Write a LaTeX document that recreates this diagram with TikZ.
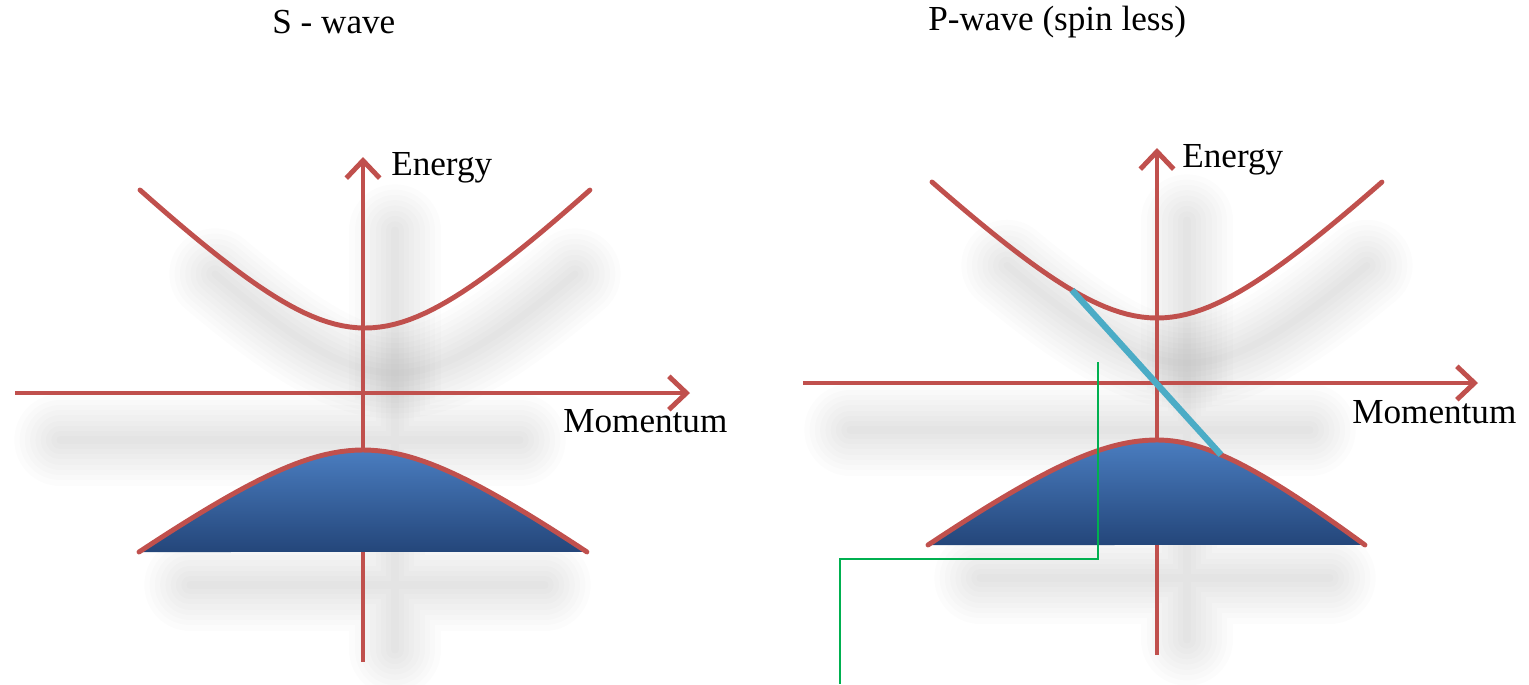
\documentclass[tikz,border=0pt]{standalone}
\usepackage{fontspec}
\setmainfont{Liberation Serif}
\usetikzlibrary{arrows.meta,positioning,calc}
\definecolor{bandred}{HTML}{C0504D}
\definecolor{bandblue}{HTML}{4A7DC0}
\definecolor{banddark}{HTML}{24467A}
\definecolor{crosscyan}{HTML}{4BACC6}
\definecolor{markgreen}{HTML}{00B050}

\begin{document}
\begin{tikzpicture}[x=0.02cm,y=-0.02cm,
  axis/.style={draw=bandred,line width=2.8pt,-{Straight Barb[length=10pt,width=19pt]}},
  curve/.style={draw=bandred,line width=2.8pt,line cap=round},
  softshadow/.style={black,opacity=0.01,line cap=round},
  label/.style={font=\fontsize{20}{24}\selectfont,inner sep=0pt,anchor=base west},
  declare function={hb(\t)=(sqrt(\t*\t+0.25)-0.5)/0.618034;}]
  \useasboundingbox (0,0) rectangle (1529,684);

  % soft shadows
  \foreach \w in {4,10,...,52}{
    \draw[softshadow,line width=\w pt] (60,440) -- (520,440) (395,230) -- (395,650)
      (190,585) -- (545,585);
    \draw[softshadow,line width=\w pt] plot[domain=-0.8:0.8,samples=41] ({395+225*\x},{373-138*hb(\x)});
    \draw[softshadow,line width=\w pt] (850,430) -- (1310,430) (1187,220) -- (1187,640)
      (980,578) -- (1330,578);
    \draw[softshadow,line width=\w pt] plot[domain=-0.8:0.8,samples=41] ({1187+225*\x},{363-136*hb(\x)});
  }

  % S - wave
  \coordinate (sbot) at (363,662);
  \coordinate (stop) at (363,157);
  \coordinate (sleft) at (15,393);
  \coordinate (sright) at (690,393);
  \draw[axis] (sbot) -- (stop);
  \draw[axis] (sleft) -- (sright);
  \draw[curve] plot[domain=-1:1,samples=61] ({365+225*\x},{328-138*hb(\x)});
  \shade[top color=bandblue,bottom color=banddark]
    plot[domain=-1:1,samples=61] ({363+224*\x},{450+102*hb(\x)}) -- cycle;
  \draw[curve] plot[domain=-1:1,samples=61] ({363+224*\x},{450+102*hb(\x)});
  \node[label] (stitle) at (272,33) {S - wave};
  \node[label] (senergy) at (391,175) {Energy};
  \node[label] (smomentum) at (563,432) {Momentum};

  % P-wave
  \coordinate (pbot) at (1157,655);
  \coordinate (ptop) at (1157,148);
  \coordinate (pleft) at (803,383);
  \coordinate (pright) at (1478,383);
  \draw[axis] (pbot) -- (ptop);
  \draw[axis] (pleft) -- (pright);
  \draw[curve] plot[domain=-1:1,samples=61] ({1157+225*\x},{318-136*hb(\x)});
  \shade[top color=bandblue,bottom color=banddark]
    plot[domain=-1:0,samples=41] ({1157+229*\x},{440+105*hb(\x)})
    -- plot[domain=0:1,samples=41] ({1157+208*\x},{440+105*hb(\x)}) -- cycle;
  \draw[curve] plot[domain=-1:0,samples=41] ({1157+229*\x},{440+105*hb(\x)})
    -- plot[domain=0:1,samples=41] ({1157+208*\x},{440+105*hb(\x)});
  \coordinate (cupper) at ({1157-85},{318-136*hb(85/225)});
  \coordinate (clower) at ({1157+64},{440+105*hb(64/208)});
  \draw[crosscyan,line width=3.6pt] (cupper) -- (clower);
  \node[label] (ptitle) at (928,30) {P-wave (spin less)};
  \node[label] (penergy) at (1182,167) {Energy};
  \node[label] (pmomentum) at (1352,423) {Momentum};

  % marker
  \coordinate (gtop) at (1098,362);
  \coordinate (gend) at (840,684);
  \draw[markgreen,line width=1.5pt] (gtop) |- ($(gend)+(0,-125)$) -- (gend);
\end{tikzpicture}
\end{document}
